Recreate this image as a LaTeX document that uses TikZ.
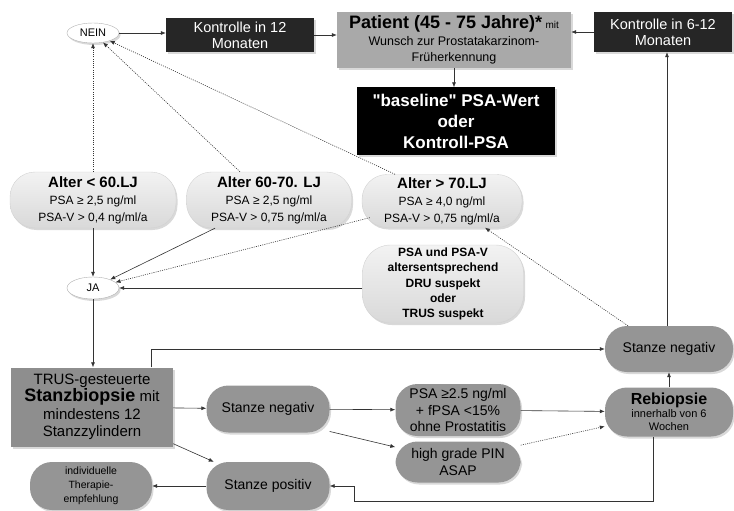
\documentclass[tikz,border=0pt]{standalone}
\usepackage{fontspec}
\setmainfont{Liberation Sans}
\usepackage{xcolor}
\usetikzlibrary{calc}
\usetikzlibrary{arrows.meta}
\usetikzlibrary{shapes.geometric}
\usetikzlibrary{shadows}

\definecolor{dunkel}{HTML}{262626}
\definecolor{mittel}{HTML}{959595}
\definecolor{kopf}{HTML}{A9A9A9}
\definecolor{trusgrau}{HTML}{8E8E8E}

\newcommand{\gr}[2]{\fontsize{#1}{#2}\selectfont}

\begin{document}
\begin{tikzpicture}[x=1pt,y=-1pt]

\tikzset{
    box/.style = {
    inner sep=1pt,
    align=center,
    drop shadow={shadow xshift=1.5pt, shadow yshift=-2pt, opacity=0.3}
    }
}

\tikzstyle{dunkelbox}=[box, fill=dunkel, text=white]
\tikzstyle{hellpille}=[box, rounded corners=25, top color=gray!10, bottom color=gray!30, draw=gray!35]
\tikzstyle{pille}=[box, rounded corners=22, fill=mittel]
\tikzstyle{oval}=[box, ellipse, draw=gray!60, fill=white, inner sep=0pt, minimum width=52, minimum height=20]
\tikzstyle{pfeil}=[-{Latex[length=5pt,width=4pt]}, draw=black!80, semithick]
\tikzstyle{punkt}=[pfeil, line width=0.6pt, dash pattern=on 1pt off 1.2pt]

\useasboundingbox (0,0) rectangle (734,511);

% obere Reihe
\node (nein) [oval, font=\gr{11}{13}] at (93,33) {NEIN};
\node (kontrolle-12) [dunkelbox, minimum width=148, minimum height=34, font=\gr{14.5}{16}] at (240,35)
    {Kontrolle in 12\\Monaten};
\node (patient) [box, fill=kopf, minimum width=234, minimum height=56, font=\gr{12.5}{16}] at (454,40)
    {{\gr{18}{20}\bfseries Patient (45 - 75 Jahre)*} {\gr{10}{12}mit}\\[1pt]Wunsch zur Prostatakarzinom-\\Früherkennung};
\node (kontrolle-6-12) [dunkelbox, minimum width=138, minimum height=40, font=\gr{14.5}{16}] at (663,32)
    {Kontrolle in 6-12\\Monaten};
\node (baseline) [box, fill=black, text=white, minimum width=198, minimum height=67, font=\gr{17}{21}\bfseries] at (456,121)
    {\textquotedbl baseline\textquotedbl\ PSA-Wert\\oder\\Kontroll-PSA};

% Altersgruppen
\node (alter-60) [hellpille, minimum width=166, minimum height=56, font=\gr{12}{17}] at (93,200)
    {{\gr{15}{17}\bfseries Alter < 60.LJ}\\PSA ≥ 2,5 ng/ml\\PSA-V > 0,4 ng/ml/a};
\node (alter-60-70) [hellpille, minimum width=165, minimum height=56, font=\gr{12}{17}] at (269,200)
    {{\gr{15}{17}\bfseries Alter 60-70. LJ}\\PSA ≥ 2,5 ng/ml\\PSA-V > 0,75 ng/ml/a};
\node (alter-70) [hellpille, minimum width=160, minimum height=53, font=\gr{12}{17}] at (442,201)
    {{\gr{15}{17}\bfseries Alter > 70.LJ}\\PSA ≥ 4,0 ng/ml\\PSA-V > 0,75 ng/ml/a};
\node (ja) [oval, minimum height=22, font=\gr{11}{13}] at (93,288) {JA};
\node (suspekt) [hellpille, rounded corners=28, minimum width=161, minimum height=78, font=\gr{12}{15.3}\bfseries] at (443,284)
    {PSA und PSA-V\\altersentsprechend\\DRU suspekt\\oder\\TRUS suspekt};

% Biopsie
\node (trus) [box, fill=trusgrau, minimum width=162, minimum height=79, font=\gr{15}{17.5}] at (92,407)
    {TRUS-gesteuerte\\{\gr{18}{20}\bfseries Stanzbiopsie} mit\\mindestens 12\\Stanzzylindern};
\node (stanze-neg) [pille, minimum width=123, minimum height=47, font=\gr{14}{16}] at (268,409)
    {Stanze negativ};
\node (psa-25) [pille, minimum width=125, minimum height=52, font=\gr{14}{16.5}] at (458,410)
    {PSA ≥2.5 ng/ml\\+ fPSA <15\%\\ohne Prostatitis};
\node (pin) [pille, minimum width=125, minimum height=41, font=\gr{14}{16.5}] at (458,462)
    {high grade PIN\\ASAP};
\node (rebiopsie) [pille, minimum width=128, minimum height=49, font=\gr{11}{13}] at (669,412)
    {{\gr{16}{18}\bfseries Rebiopsie}\\innerhalb von 6\\Wochen};
\node (stanze-neg-2) [pille, minimum width=128, minimum height=46, font=\gr{14}{16}] at (669,349)
    {Stanze negativ};
\node (stanze-pos) [pille, minimum width=123, minimum height=48, font=\gr{14}{16}] at (268,486)
    {Stanze positiv};
\node (therapie) [pille, minimum width=122, minimum height=48, font=\gr{10.5}{14}] at (91,486)
    {individuelle\\Therapie-\\empfehlung};

\coordinate (rueck) at ($(stanze-neg-2.north)+(-2,0)$);

% Verbindungen
\draw[pfeil] (nein.east) -- (nein.east -| kontrolle-12.west);
\draw[pfeil] (kontrolle-12.east) -- (kontrolle-12.east -| patient.west);
\draw[pfeil] (kontrolle-6-12.west) -- (kontrolle-6-12.west -| patient.east);
\draw[pfeil] (patient.south) -- (patient.south |- baseline.north);

\draw[punkt] (alter-60.north) -- (nein.south);
\draw[punkt] ($(alter-60-70.north)+(-29,0)$) -- (nein);
\draw[punkt] ($(alter-70.north)+(-47,0)$) -- (nein);

\draw[pfeil] (alter-60.south) -- (ja.north);
\draw[pfeil] ($(alter-60-70.south)+(-54,0)$) -- (ja);
\draw[punkt] ($(alter-70.south west)+(8,-10)$) -- (ja);
\draw[pfeil] (suspekt.west |- ja.east) -- (ja.east);
\draw[pfeil] (ja.south) -- (ja.south |- trus.north);

\draw[pfeil] (trus) -- (stanze-neg);
\draw[pfeil] ($(trus.south east)+(0,-3)$) -- (stanze-pos);
\draw[pfeil] (stanze-pos) -- (therapie);
\draw[pfeil] (stanze-neg) -- (psa-25);
\draw[pfeil] (stanze-neg.-20) -- (pin);
\draw[pfeil] (psa-25) -- (rebiopsie);
\draw[punkt] (pin.15) -- (rebiopsie);
\draw[pfeil] (rebiopsie.north) -- (stanze-neg-2.south);
\draw[pfeil] ($(rebiopsie.south)+(-16,0)$) -- ++(0,65) -| ($(stanze-pos.east)+(25,0)$) -- (stanze-pos.east);
\draw[pfeil] ($(trus.north)+(59,0)$) |- (stanze-neg-2.west);
\draw[pfeil] (rueck) -- (rueck |- kontrolle-6-12.south);
\draw[punkt] ($(stanze-neg-2.north)+(-41,0)$) -- ($(alter-70.south)+(43,0)$);

\end{tikzpicture}
\end{document}
